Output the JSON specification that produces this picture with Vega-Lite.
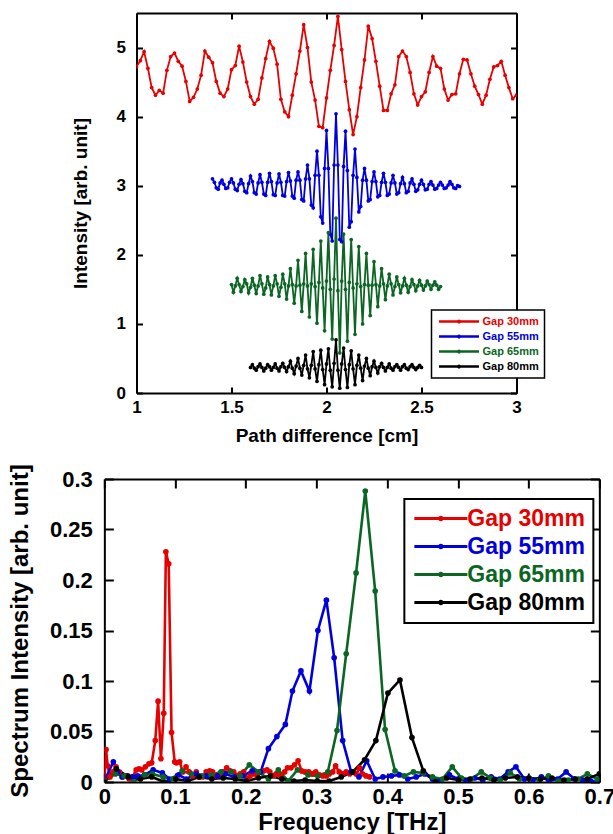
{
  "$schema": "https://vega.github.io/schema/vega-lite/v6.json",
  "padding": {"left": 8, "top": 12, "right": 0, "bottom": 0},
  "background": "white",
  "columns": 1,
  "align": "all",
  "center": true,
  "spacing": 18,
  "config": {
    "font": "Liberation Sans",
    "view": {"stroke": null},
    "axis": {"domainColor": "black", "domainWidth": 2, "tickColor": "black", "tickWidth": 2, "grid": false, "labelFlush": false, "labelFontWeight": "bold", "titleFontWeight": "bold", "labelColor": "black", "titleColor": "black"}
  },
  "resolve": {"legend": {"color": "independent"}},
  "datasets": {
    "top": [
      {"series":"Gap 30mm","x":1.00,"y":4.72},{"series":"Gap 30mm","x":1.02,"y":4.81},{"series":"Gap 30mm","x":1.04,"y":4.94},{"series":"Gap 30mm","x":1.06,"y":4.70},{"series":"Gap 30mm","x":1.08,"y":4.42},{"series":"Gap 30mm","x":1.10,"y":4.31},{"series":"Gap 30mm","x":1.12,"y":4.38},{"series":"Gap 30mm","x":1.14,"y":4.34},{"series":"Gap 30mm","x":1.16,"y":4.67},{"series":"Gap 30mm","x":1.18,"y":4.87},
      {"series":"Gap 30mm","x":1.20,"y":4.92},{"series":"Gap 30mm","x":1.22,"y":4.80},{"series":"Gap 30mm","x":1.24,"y":4.73},{"series":"Gap 30mm","x":1.26,"y":4.51},{"series":"Gap 30mm","x":1.28,"y":4.22},{"series":"Gap 30mm","x":1.30,"y":4.28},{"series":"Gap 30mm","x":1.32,"y":4.40},{"series":"Gap 30mm","x":1.34,"y":4.60},{"series":"Gap 30mm","x":1.36,"y":4.95},{"series":"Gap 30mm","x":1.38,"y":4.86},
      {"series":"Gap 30mm","x":1.40,"y":4.78},{"series":"Gap 30mm","x":1.42,"y":4.51},{"series":"Gap 30mm","x":1.44,"y":4.34},{"series":"Gap 30mm","x":1.46,"y":4.29},{"series":"Gap 30mm","x":1.48,"y":4.40},{"series":"Gap 30mm","x":1.50,"y":4.68},{"series":"Gap 30mm","x":1.52,"y":4.74},{"series":"Gap 30mm","x":1.54,"y":5.02},{"series":"Gap 30mm","x":1.56,"y":4.79},{"series":"Gap 30mm","x":1.58,"y":4.50},
      {"series":"Gap 30mm","x":1.60,"y":4.29},{"series":"Gap 30mm","x":1.62,"y":4.18},{"series":"Gap 30mm","x":1.64,"y":4.25},{"series":"Gap 30mm","x":1.66,"y":4.56},{"series":"Gap 30mm","x":1.68,"y":4.84},{"series":"Gap 30mm","x":1.70,"y":5.09},{"series":"Gap 30mm","x":1.72,"y":4.99},{"series":"Gap 30mm","x":1.74,"y":4.76},{"series":"Gap 30mm","x":1.76,"y":4.25},{"series":"Gap 30mm","x":1.78,"y":4.07},
      {"series":"Gap 30mm","x":1.80,"y":4.00},{"series":"Gap 30mm","x":1.82,"y":4.31},{"series":"Gap 30mm","x":1.84,"y":4.62},{"series":"Gap 30mm","x":1.86,"y":4.95},{"series":"Gap 30mm","x":1.88,"y":5.33},{"series":"Gap 30mm","x":1.90,"y":5.00},{"series":"Gap 30mm","x":1.92,"y":4.50},{"series":"Gap 30mm","x":1.94,"y":4.24},{"series":"Gap 30mm","x":1.96,"y":3.86},{"series":"Gap 30mm","x":1.98,"y":3.84},
      {"series":"Gap 30mm","x":2.00,"y":4.27},{"series":"Gap 30mm","x":2.02,"y":4.67},{"series":"Gap 30mm","x":2.04,"y":5.03},{"series":"Gap 30mm","x":2.06,"y":5.45},{"series":"Gap 30mm","x":2.08,"y":4.97},{"series":"Gap 30mm","x":2.10,"y":4.51},{"series":"Gap 30mm","x":2.12,"y":4.10},{"series":"Gap 30mm","x":2.14,"y":3.74},{"series":"Gap 30mm","x":2.16,"y":4.00},{"series":"Gap 30mm","x":2.18,"y":4.42},
      {"series":"Gap 30mm","x":2.20,"y":4.82},{"series":"Gap 30mm","x":2.22,"y":5.31},{"series":"Gap 30mm","x":2.24,"y":5.13},{"series":"Gap 30mm","x":2.26,"y":4.80},{"series":"Gap 30mm","x":2.28,"y":4.44},{"series":"Gap 30mm","x":2.30,"y":4.09},{"series":"Gap 30mm","x":2.32,"y":4.09},{"series":"Gap 30mm","x":2.34,"y":4.33},{"series":"Gap 30mm","x":2.36,"y":4.46},{"series":"Gap 30mm","x":2.38,"y":4.87},
      {"series":"Gap 30mm","x":2.40,"y":4.95},{"series":"Gap 30mm","x":2.42,"y":4.87},{"series":"Gap 30mm","x":2.44,"y":4.64},{"series":"Gap 30mm","x":2.46,"y":4.33},{"series":"Gap 30mm","x":2.48,"y":4.17},{"series":"Gap 30mm","x":2.50,"y":4.29},{"series":"Gap 30mm","x":2.52,"y":4.36},{"series":"Gap 30mm","x":2.54,"y":4.64},{"series":"Gap 30mm","x":2.56,"y":4.87},{"series":"Gap 30mm","x":2.58,"y":4.73},
      {"series":"Gap 30mm","x":2.60,"y":4.70},{"series":"Gap 30mm","x":2.62,"y":4.40},{"series":"Gap 30mm","x":2.64,"y":4.24},{"series":"Gap 30mm","x":2.66,"y":4.32},{"series":"Gap 30mm","x":2.68,"y":4.33},{"series":"Gap 30mm","x":2.70,"y":4.62},{"series":"Gap 30mm","x":2.72,"y":4.83},{"series":"Gap 30mm","x":2.74,"y":4.82},{"series":"Gap 30mm","x":2.76,"y":4.62},{"series":"Gap 30mm","x":2.78,"y":4.44},
      {"series":"Gap 30mm","x":2.80,"y":4.32},{"series":"Gap 30mm","x":2.82,"y":4.18},{"series":"Gap 30mm","x":2.84,"y":4.31},{"series":"Gap 30mm","x":2.86,"y":4.54},{"series":"Gap 30mm","x":2.88,"y":4.72},{"series":"Gap 30mm","x":2.90,"y":4.74},{"series":"Gap 30mm","x":2.92,"y":4.80},{"series":"Gap 30mm","x":2.94,"y":4.60},{"series":"Gap 30mm","x":2.96,"y":4.42},{"series":"Gap 30mm","x":2.98,"y":4.26},
      {"series":"Gap 30mm","x":3.00,"y":4.31},

      {"series":"Gap 55mm","x":1.40,"y":3.10},{"series":"Gap 55mm","x":1.41,"y":3.05},{"series":"Gap 55mm","x":1.42,"y":2.97},{"series":"Gap 55mm","x":1.43,"y":2.95},{"series":"Gap 55mm","x":1.44,"y":3.04},
      {"series":"Gap 55mm","x":1.45,"y":3.08},{"series":"Gap 55mm","x":1.46,"y":3.02},{"series":"Gap 55mm","x":1.47,"y":2.96},{"series":"Gap 55mm","x":1.48,"y":2.97},{"series":"Gap 55mm","x":1.49,"y":3.05},
      {"series":"Gap 55mm","x":1.50,"y":3.10},{"series":"Gap 55mm","x":1.51,"y":3.04},{"series":"Gap 55mm","x":1.52,"y":2.95},{"series":"Gap 55mm","x":1.53,"y":2.93},{"series":"Gap 55mm","x":1.54,"y":3.02},
      {"series":"Gap 55mm","x":1.55,"y":3.09},{"series":"Gap 55mm","x":1.56,"y":3.03},{"series":"Gap 55mm","x":1.57,"y":2.92},{"series":"Gap 55mm","x":1.58,"y":2.90},{"series":"Gap 55mm","x":1.59,"y":3.03},
      {"series":"Gap 55mm","x":1.60,"y":3.14},{"series":"Gap 55mm","x":1.61,"y":3.06},{"series":"Gap 55mm","x":1.62,"y":2.90},{"series":"Gap 55mm","x":1.63,"y":2.88},{"series":"Gap 55mm","x":1.64,"y":3.04},
      {"series":"Gap 55mm","x":1.65,"y":3.16},{"series":"Gap 55mm","x":1.66,"y":3.05},{"series":"Gap 55mm","x":1.67,"y":2.88},{"series":"Gap 55mm","x":1.68,"y":2.86},{"series":"Gap 55mm","x":1.69,"y":3.05},
      {"series":"Gap 55mm","x":1.70,"y":3.18},{"series":"Gap 55mm","x":1.71,"y":3.06},{"series":"Gap 55mm","x":1.72,"y":2.87},{"series":"Gap 55mm","x":1.73,"y":2.86},{"series":"Gap 55mm","x":1.74,"y":3.04},
      {"series":"Gap 55mm","x":1.75,"y":3.17},{"series":"Gap 55mm","x":1.76,"y":3.05},{"series":"Gap 55mm","x":1.77,"y":2.86},{"series":"Gap 55mm","x":1.78,"y":2.85},{"series":"Gap 55mm","x":1.79,"y":3.06},
      {"series":"Gap 55mm","x":1.80,"y":3.19},{"series":"Gap 55mm","x":1.81,"y":3.07},{"series":"Gap 55mm","x":1.82,"y":2.85},{"series":"Gap 55mm","x":1.83,"y":2.82},{"series":"Gap 55mm","x":1.84,"y":3.08},
      {"series":"Gap 55mm","x":1.85,"y":3.20},{"series":"Gap 55mm","x":1.86,"y":3.08},{"series":"Gap 55mm","x":1.87,"y":2.80},{"series":"Gap 55mm","x":1.88,"y":2.78},{"series":"Gap 55mm","x":1.89,"y":3.10},
      {"series":"Gap 55mm","x":1.90,"y":3.30},{"series":"Gap 55mm","x":1.91,"y":3.10},{"series":"Gap 55mm","x":1.92,"y":2.72},{"series":"Gap 55mm","x":1.93,"y":2.68},{"series":"Gap 55mm","x":1.94,"y":3.15},
      {"series":"Gap 55mm","x":1.95,"y":3.50},{"series":"Gap 55mm","x":1.96,"y":3.15},{"series":"Gap 55mm","x":1.97,"y":2.55},{"series":"Gap 55mm","x":1.98,"y":2.46},{"series":"Gap 55mm","x":1.99,"y":3.25},
      {"series":"Gap 55mm","x":2.00,"y":3.80},{"series":"Gap 55mm","x":2.01,"y":3.25},{"series":"Gap 55mm","x":2.02,"y":2.30},{"series":"Gap 55mm","x":2.03,"y":2.20},{"series":"Gap 55mm","x":2.04,"y":3.30},
      {"series":"Gap 55mm","x":2.05,"y":4.04},{"series":"Gap 55mm","x":2.06,"y":3.30},{"series":"Gap 55mm","x":2.07,"y":2.22},{"series":"Gap 55mm","x":2.08,"y":2.19},{"series":"Gap 55mm","x":2.09,"y":3.28},
      {"series":"Gap 55mm","x":2.10,"y":3.79},{"series":"Gap 55mm","x":2.11,"y":3.22},{"series":"Gap 55mm","x":2.12,"y":2.40},{"series":"Gap 55mm","x":2.13,"y":2.48},{"series":"Gap 55mm","x":2.14,"y":3.15},
      {"series":"Gap 55mm","x":2.15,"y":3.53},{"series":"Gap 55mm","x":2.16,"y":3.12},{"series":"Gap 55mm","x":2.17,"y":2.62},{"series":"Gap 55mm","x":2.18,"y":2.70},{"series":"Gap 55mm","x":2.19,"y":3.08},
      {"series":"Gap 55mm","x":2.20,"y":3.25},{"series":"Gap 55mm","x":2.21,"y":3.08},{"series":"Gap 55mm","x":2.22,"y":2.78},{"series":"Gap 55mm","x":2.23,"y":2.80},{"series":"Gap 55mm","x":2.24,"y":3.06},
      {"series":"Gap 55mm","x":2.25,"y":3.20},{"series":"Gap 55mm","x":2.26,"y":3.06},{"series":"Gap 55mm","x":2.27,"y":2.84},{"series":"Gap 55mm","x":2.28,"y":2.86},{"series":"Gap 55mm","x":2.29,"y":3.05},
      {"series":"Gap 55mm","x":2.30,"y":3.18},{"series":"Gap 55mm","x":2.31,"y":3.05},{"series":"Gap 55mm","x":2.32,"y":2.86},{"series":"Gap 55mm","x":2.33,"y":2.88},{"series":"Gap 55mm","x":2.34,"y":3.04},
      {"series":"Gap 55mm","x":2.35,"y":3.15},{"series":"Gap 55mm","x":2.36,"y":3.04},{"series":"Gap 55mm","x":2.37,"y":2.88},{"series":"Gap 55mm","x":2.38,"y":2.90},{"series":"Gap 55mm","x":2.39,"y":3.03},
      {"series":"Gap 55mm","x":2.40,"y":3.12},{"series":"Gap 55mm","x":2.41,"y":3.03},{"series":"Gap 55mm","x":2.42,"y":2.90},{"series":"Gap 55mm","x":2.43,"y":2.92},{"series":"Gap 55mm","x":2.44,"y":3.04},
      {"series":"Gap 55mm","x":2.45,"y":3.10},{"series":"Gap 55mm","x":2.46,"y":3.02},{"series":"Gap 55mm","x":2.47,"y":2.92},{"series":"Gap 55mm","x":2.48,"y":2.94},{"series":"Gap 55mm","x":2.49,"y":3.02},
      {"series":"Gap 55mm","x":2.50,"y":3.08},{"series":"Gap 55mm","x":2.51,"y":3.02},{"series":"Gap 55mm","x":2.52,"y":2.94},{"series":"Gap 55mm","x":2.53,"y":2.95},{"series":"Gap 55mm","x":2.54,"y":3.02},
      {"series":"Gap 55mm","x":2.55,"y":3.06},{"series":"Gap 55mm","x":2.56,"y":3.01},{"series":"Gap 55mm","x":2.57,"y":2.95},{"series":"Gap 55mm","x":2.58,"y":2.96},{"series":"Gap 55mm","x":2.59,"y":3.01},
      {"series":"Gap 55mm","x":2.60,"y":3.05},{"series":"Gap 55mm","x":2.61,"y":3.01},{"series":"Gap 55mm","x":2.62,"y":2.96},{"series":"Gap 55mm","x":2.63,"y":2.97},{"series":"Gap 55mm","x":2.64,"y":3.01},
      {"series":"Gap 55mm","x":2.65,"y":3.06},{"series":"Gap 55mm","x":2.66,"y":3.02},{"series":"Gap 55mm","x":2.67,"y":2.97},{"series":"Gap 55mm","x":2.68,"y":2.96},{"series":"Gap 55mm","x":2.69,"y":3.00},
      {"series":"Gap 55mm","x":2.70,"y":2.99},

      {"series":"Gap 65mm","x":1.50,"y":1.57},{"series":"Gap 65mm","x":1.51,"y":1.46},{"series":"Gap 65mm","x":1.52,"y":1.55},{"series":"Gap 65mm","x":1.53,"y":1.66},{"series":"Gap 65mm","x":1.54,"y":1.57},{"series":"Gap 65mm","x":1.55,"y":1.47},{"series":"Gap 65mm","x":1.56,"y":1.54},{"series":"Gap 65mm","x":1.57,"y":1.64},{"series":"Gap 65mm","x":1.58,"y":1.58},{"series":"Gap 65mm","x":1.59,"y":1.45},
      {"series":"Gap 65mm","x":1.60,"y":1.53},{"series":"Gap 65mm","x":1.61,"y":1.66},{"series":"Gap 65mm","x":1.62,"y":1.56},{"series":"Gap 65mm","x":1.63,"y":1.44},{"series":"Gap 65mm","x":1.64,"y":1.55},{"series":"Gap 65mm","x":1.65,"y":1.70},{"series":"Gap 65mm","x":1.66,"y":1.58},{"series":"Gap 65mm","x":1.67,"y":1.43},{"series":"Gap 65mm","x":1.68,"y":1.52},{"series":"Gap 65mm","x":1.69,"y":1.68},
      {"series":"Gap 65mm","x":1.70,"y":1.57},{"series":"Gap 65mm","x":1.71,"y":1.42},{"series":"Gap 65mm","x":1.72,"y":1.55},{"series":"Gap 65mm","x":1.73,"y":1.70},{"series":"Gap 65mm","x":1.74,"y":1.58},{"series":"Gap 65mm","x":1.75,"y":1.40},{"series":"Gap 65mm","x":1.76,"y":1.53},{"series":"Gap 65mm","x":1.77,"y":1.72},{"series":"Gap 65mm","x":1.78,"y":1.58},{"series":"Gap 65mm","x":1.79,"y":1.36},
      {"series":"Gap 65mm","x":1.80,"y":1.55},{"series":"Gap 65mm","x":1.81,"y":1.80},{"series":"Gap 65mm","x":1.82,"y":1.57},{"series":"Gap 65mm","x":1.83,"y":1.30},{"series":"Gap 65mm","x":1.84,"y":1.55},{"series":"Gap 65mm","x":1.85,"y":1.92},{"series":"Gap 65mm","x":1.86,"y":1.56},{"series":"Gap 65mm","x":1.87,"y":1.18},{"series":"Gap 65mm","x":1.88,"y":1.58},{"series":"Gap 65mm","x":1.89,"y":2.02},
      {"series":"Gap 65mm","x":1.90,"y":1.55},{"series":"Gap 65mm","x":1.91,"y":1.10},{"series":"Gap 65mm","x":1.92,"y":1.58},{"series":"Gap 65mm","x":1.93,"y":2.08},{"series":"Gap 65mm","x":1.94,"y":1.54},{"series":"Gap 65mm","x":1.95,"y":1.01},{"series":"Gap 65mm","x":1.96,"y":1.60},{"series":"Gap 65mm","x":1.97,"y":2.20},{"series":"Gap 65mm","x":1.98,"y":1.52},{"series":"Gap 65mm","x":1.99,"y":0.90},
      {"series":"Gap 65mm","x":2.00,"y":1.62},{"series":"Gap 65mm","x":2.01,"y":2.32},{"series":"Gap 65mm","x":2.02,"y":1.50},{"series":"Gap 65mm","x":2.03,"y":0.78},{"series":"Gap 65mm","x":2.04,"y":1.65},{"series":"Gap 65mm","x":2.05,"y":2.53},{"series":"Gap 65mm","x":2.06,"y":1.48},{"series":"Gap 65mm","x":2.07,"y":0.58},{"series":"Gap 65mm","x":2.08,"y":1.62},{"series":"Gap 65mm","x":2.09,"y":2.30},
      {"series":"Gap 65mm","x":2.10,"y":1.50},{"series":"Gap 65mm","x":2.11,"y":0.75},{"series":"Gap 65mm","x":2.12,"y":1.60},{"series":"Gap 65mm","x":2.13,"y":2.22},{"series":"Gap 65mm","x":2.14,"y":1.52},{"series":"Gap 65mm","x":2.15,"y":0.85},{"series":"Gap 65mm","x":2.16,"y":1.58},{"series":"Gap 65mm","x":2.17,"y":2.12},{"series":"Gap 65mm","x":2.18,"y":1.54},{"series":"Gap 65mm","x":2.19,"y":1.00},
      {"series":"Gap 65mm","x":2.20,"y":1.57},{"series":"Gap 65mm","x":2.21,"y":2.02},{"series":"Gap 65mm","x":2.22,"y":1.56},{"series":"Gap 65mm","x":2.23,"y":1.12},{"series":"Gap 65mm","x":2.24,"y":1.56},{"series":"Gap 65mm","x":2.25,"y":1.90},{"series":"Gap 65mm","x":2.26,"y":1.57},{"series":"Gap 65mm","x":2.27,"y":1.25},{"series":"Gap 65mm","x":2.28,"y":1.55},{"series":"Gap 65mm","x":2.29,"y":1.80},
      {"series":"Gap 65mm","x":2.30,"y":1.58},{"series":"Gap 65mm","x":2.31,"y":1.35},{"series":"Gap 65mm","x":2.32,"y":1.55},{"series":"Gap 65mm","x":2.33,"y":1.72},{"series":"Gap 65mm","x":2.34,"y":1.58},{"series":"Gap 65mm","x":2.35,"y":1.42},{"series":"Gap 65mm","x":2.36,"y":1.54},{"series":"Gap 65mm","x":2.37,"y":1.68},{"series":"Gap 65mm","x":2.38,"y":1.57},{"series":"Gap 65mm","x":2.39,"y":1.45},
      {"series":"Gap 65mm","x":2.40,"y":1.55},{"series":"Gap 65mm","x":2.41,"y":1.66},{"series":"Gap 65mm","x":2.42,"y":1.56},{"series":"Gap 65mm","x":2.43,"y":1.46},{"series":"Gap 65mm","x":2.44,"y":1.54},{"series":"Gap 65mm","x":2.45,"y":1.64},{"series":"Gap 65mm","x":2.46,"y":1.57},{"series":"Gap 65mm","x":2.47,"y":1.48},{"series":"Gap 65mm","x":2.48,"y":1.55},{"series":"Gap 65mm","x":2.49,"y":1.63},
      {"series":"Gap 65mm","x":2.50,"y":1.56},{"series":"Gap 65mm","x":2.51,"y":1.49},{"series":"Gap 65mm","x":2.52,"y":1.55},{"series":"Gap 65mm","x":2.53,"y":1.62},{"series":"Gap 65mm","x":2.54,"y":1.57},{"series":"Gap 65mm","x":2.55,"y":1.50},{"series":"Gap 65mm","x":2.56,"y":1.56},{"series":"Gap 65mm","x":2.57,"y":1.61},{"series":"Gap 65mm","x":2.58,"y":1.56},{"series":"Gap 65mm","x":2.59,"y":1.50},
      {"series":"Gap 65mm","x":2.60,"y":1.54},

      {"series":"Gap 80mm","x":1.60,"y":0.37},{"series":"Gap 80mm","x":1.61,"y":0.41},{"series":"Gap 80mm","x":1.62,"y":0.36},{"series":"Gap 80mm","x":1.63,"y":0.33},{"series":"Gap 80mm","x":1.64,"y":0.38},{"series":"Gap 80mm","x":1.65,"y":0.42},{"series":"Gap 80mm","x":1.66,"y":0.37},{"series":"Gap 80mm","x":1.67,"y":0.32},{"series":"Gap 80mm","x":1.68,"y":0.36},{"series":"Gap 80mm","x":1.69,"y":0.41},
      {"series":"Gap 80mm","x":1.70,"y":0.38},{"series":"Gap 80mm","x":1.71,"y":0.33},{"series":"Gap 80mm","x":1.72,"y":0.37},{"series":"Gap 80mm","x":1.73,"y":0.42},{"series":"Gap 80mm","x":1.74,"y":0.36},{"series":"Gap 80mm","x":1.75,"y":0.32},{"series":"Gap 80mm","x":1.76,"y":0.38},{"series":"Gap 80mm","x":1.77,"y":0.43},{"series":"Gap 80mm","x":1.78,"y":0.37},{"series":"Gap 80mm","x":1.79,"y":0.31},
      {"series":"Gap 80mm","x":1.80,"y":0.38},{"series":"Gap 80mm","x":1.81,"y":0.46},{"series":"Gap 80mm","x":1.82,"y":0.36},{"series":"Gap 80mm","x":1.83,"y":0.28},{"series":"Gap 80mm","x":1.84,"y":0.39},{"series":"Gap 80mm","x":1.85,"y":0.50},{"series":"Gap 80mm","x":1.86,"y":0.36},{"series":"Gap 80mm","x":1.87,"y":0.26},{"series":"Gap 80mm","x":1.88,"y":0.40},{"series":"Gap 80mm","x":1.89,"y":0.55},
      {"series":"Gap 80mm","x":1.90,"y":0.35},{"series":"Gap 80mm","x":1.91,"y":0.22},{"series":"Gap 80mm","x":1.92,"y":0.40},{"series":"Gap 80mm","x":1.93,"y":0.60},{"series":"Gap 80mm","x":1.94,"y":0.35},{"series":"Gap 80mm","x":1.95,"y":0.17},{"series":"Gap 80mm","x":1.96,"y":0.41},{"series":"Gap 80mm","x":1.97,"y":0.62},{"series":"Gap 80mm","x":1.98,"y":0.34},{"series":"Gap 80mm","x":1.99,"y":0.12},
      {"series":"Gap 80mm","x":2.00,"y":0.42},{"series":"Gap 80mm","x":2.01,"y":0.64},{"series":"Gap 80mm","x":2.02,"y":0.33},{"series":"Gap 80mm","x":2.03,"y":0.09},{"series":"Gap 80mm","x":2.04,"y":0.43},{"series":"Gap 80mm","x":2.05,"y":0.77},{"series":"Gap 80mm","x":2.06,"y":0.33},{"series":"Gap 80mm","x":2.07,"y":0.07},{"series":"Gap 80mm","x":2.08,"y":0.42},{"series":"Gap 80mm","x":2.09,"y":0.65},
      {"series":"Gap 80mm","x":2.10,"y":0.34},{"series":"Gap 80mm","x":2.11,"y":0.08},{"series":"Gap 80mm","x":2.12,"y":0.41},{"series":"Gap 80mm","x":2.13,"y":0.61},{"series":"Gap 80mm","x":2.14,"y":0.35},{"series":"Gap 80mm","x":2.15,"y":0.12},{"series":"Gap 80mm","x":2.16,"y":0.40},{"series":"Gap 80mm","x":2.17,"y":0.55},{"series":"Gap 80mm","x":2.18,"y":0.36},{"series":"Gap 80mm","x":2.19,"y":0.18},
      {"series":"Gap 80mm","x":2.20,"y":0.39},{"series":"Gap 80mm","x":2.21,"y":0.50},{"series":"Gap 80mm","x":2.22,"y":0.36},{"series":"Gap 80mm","x":2.23,"y":0.25},{"series":"Gap 80mm","x":2.24,"y":0.38},{"series":"Gap 80mm","x":2.25,"y":0.46},{"series":"Gap 80mm","x":2.26,"y":0.37},{"series":"Gap 80mm","x":2.27,"y":0.29},{"series":"Gap 80mm","x":2.28,"y":0.38},{"series":"Gap 80mm","x":2.29,"y":0.43},
      {"series":"Gap 80mm","x":2.30,"y":0.37},{"series":"Gap 80mm","x":2.31,"y":0.32},{"series":"Gap 80mm","x":2.32,"y":0.37},{"series":"Gap 80mm","x":2.33,"y":0.42},{"series":"Gap 80mm","x":2.34,"y":0.36},{"series":"Gap 80mm","x":2.35,"y":0.33},{"series":"Gap 80mm","x":2.36,"y":0.38},{"series":"Gap 80mm","x":2.37,"y":0.41},{"series":"Gap 80mm","x":2.38,"y":0.37},{"series":"Gap 80mm","x":2.39,"y":0.33},
      {"series":"Gap 80mm","x":2.40,"y":0.38},{"series":"Gap 80mm","x":2.41,"y":0.41},{"series":"Gap 80mm","x":2.42,"y":0.36},{"series":"Gap 80mm","x":2.43,"y":0.34},{"series":"Gap 80mm","x":2.44,"y":0.38},{"series":"Gap 80mm","x":2.45,"y":0.41},{"series":"Gap 80mm","x":2.46,"y":0.37},{"series":"Gap 80mm","x":2.47,"y":0.34},{"series":"Gap 80mm","x":2.48,"y":0.37},{"series":"Gap 80mm","x":2.49,"y":0.40},
      {"series":"Gap 80mm","x":2.50,"y":0.37}
    ],
    "bottom": [
      {"series":"Gap 30mm","f":0.000,"I":0.002},{"series":"Gap 30mm","f":0.0024,"I":0.032},{"series":"Gap 30mm","f":0.0047,"I":0.016},{"series":"Gap 30mm","f":0.008,"I":0.005},{"series":"Gap 30mm","f":0.012,"I":0.010},{"series":"Gap 30mm","f":0.0165,"I":0.015},{"series":"Gap 30mm","f":0.021,"I":0.010},{"series":"Gap 30mm","f":0.026,"I":0.005},{"series":"Gap 30mm","f":0.031,"I":0.006},{"series":"Gap 30mm","f":0.035,"I":0.003},
      {"series":"Gap 30mm","f":0.040,"I":0.005},{"series":"Gap 30mm","f":0.045,"I":0.012},{"series":"Gap 30mm","f":0.049,"I":0.013},{"series":"Gap 30mm","f":0.053,"I":0.012},{"series":"Gap 30mm","f":0.058,"I":0.015},{"series":"Gap 30mm","f":0.063,"I":0.018},{"series":"Gap 30mm","f":0.067,"I":0.019},{"series":"Gap 30mm","f":0.072,"I":0.041},{"series":"Gap 30mm","f":0.076,"I":0.080},{"series":"Gap 30mm","f":0.080,"I":0.023},
      {"series":"Gap 30mm","f":0.084,"I":0.068},{"series":"Gap 30mm","f":0.087,"I":0.228},{"series":"Gap 30mm","f":0.091,"I":0.216},{"series":"Gap 30mm","f":0.095,"I":0.049},{"series":"Gap 30mm","f":0.0995,"I":0.020},{"series":"Gap 30mm","f":0.102,"I":0.019},{"series":"Gap 30mm","f":0.1065,"I":0.020},{"series":"Gap 30mm","f":0.111,"I":0.010},{"series":"Gap 30mm","f":0.1155,"I":0.015},{"series":"Gap 30mm","f":0.120,"I":0.010},
      {"series":"Gap 30mm","f":0.125,"I":0.006},{"series":"Gap 30mm","f":0.130,"I":0.010},{"series":"Gap 30mm","f":0.134,"I":0.005},{"series":"Gap 30mm","f":0.139,"I":0.005},{"series":"Gap 30mm","f":0.144,"I":0.010},{"series":"Gap 30mm","f":0.149,"I":0.011},{"series":"Gap 30mm","f":0.153,"I":0.010},{"series":"Gap 30mm","f":0.158,"I":0.006},{"series":"Gap 30mm","f":0.163,"I":0.007},{"series":"Gap 30mm","f":0.167,"I":0.010},
      {"series":"Gap 30mm","f":0.173,"I":0.014},{"series":"Gap 30mm","f":0.178,"I":0.011},{"series":"Gap 30mm","f":0.183,"I":0.010},{"series":"Gap 30mm","f":0.188,"I":0.006},{"series":"Gap 30mm","f":0.192,"I":0.008},{"series":"Gap 30mm","f":0.197,"I":0.010},{"series":"Gap 30mm","f":0.202,"I":0.003},{"series":"Gap 30mm","f":0.206,"I":0.006},{"series":"Gap 30mm","f":0.211,"I":0.008},{"series":"Gap 30mm","f":0.216,"I":0.006},
      {"series":"Gap 30mm","f":0.221,"I":0.010},{"series":"Gap 30mm","f":0.225,"I":0.011},{"series":"Gap 30mm","f":0.230,"I":0.012},{"series":"Gap 30mm","f":0.234,"I":0.010},{"series":"Gap 30mm","f":0.239,"I":0.006},{"series":"Gap 30mm","f":0.244,"I":0.008},{"series":"Gap 30mm","f":0.249,"I":0.006},{"series":"Gap 30mm","f":0.255,"I":0.010},{"series":"Gap 30mm","f":0.259,"I":0.014},{"series":"Gap 30mm","f":0.264,"I":0.014},
      {"series":"Gap 30mm","f":0.269,"I":0.017},{"series":"Gap 30mm","f":0.274,"I":0.021},{"series":"Gap 30mm","f":0.279,"I":0.011},{"series":"Gap 30mm","f":0.284,"I":0.010},{"series":"Gap 30mm","f":0.289,"I":0.010},{"series":"Gap 30mm","f":0.294,"I":0.008},{"series":"Gap 30mm","f":0.299,"I":0.010},{"series":"Gap 30mm","f":0.304,"I":0.007},{"series":"Gap 30mm","f":0.309,"I":0.006},{"series":"Gap 30mm","f":0.314,"I":0.006},
      {"series":"Gap 30mm","f":0.318,"I":0.008},{"series":"Gap 30mm","f":0.323,"I":0.010},{"series":"Gap 30mm","f":0.327,"I":0.016},{"series":"Gap 30mm","f":0.332,"I":0.010},{"series":"Gap 30mm","f":0.337,"I":0.008},{"series":"Gap 30mm","f":0.342,"I":0.010},{"series":"Gap 30mm","f":0.347,"I":0.008},{"series":"Gap 30mm","f":0.352,"I":0.010},{"series":"Gap 30mm","f":0.356,"I":0.008},{"series":"Gap 30mm","f":0.361,"I":0.014},
      {"series":"Gap 30mm","f":0.365,"I":0.008},{"series":"Gap 30mm","f":0.370,"I":0.006},{"series":"Gap 30mm","f":0.375,"I":0.005},

      {"series":"Gap 55mm","f":0.000,"I":0.001},{"series":"Gap 55mm","f":0.0127,"I":0.020},{"series":"Gap 55mm","f":0.0189,"I":0.010},{"series":"Gap 55mm","f":0.025,"I":0.005},{"series":"Gap 55mm","f":0.033,"I":0.006},{"series":"Gap 55mm","f":0.040,"I":0.005},{"series":"Gap 55mm","f":0.047,"I":0.006},{"series":"Gap 55mm","f":0.057,"I":0.007},{"series":"Gap 55mm","f":0.069,"I":0.012},{"series":"Gap 55mm","f":0.082,"I":0.009},
      {"series":"Gap 55mm","f":0.092,"I":0.003},{"series":"Gap 55mm","f":0.105,"I":0.007},{"series":"Gap 55mm","f":0.116,"I":0.003},{"series":"Gap 55mm","f":0.130,"I":0.008},{"series":"Gap 55mm","f":0.144,"I":0.006},{"series":"Gap 55mm","f":0.160,"I":0.006},{"series":"Gap 55mm","f":0.171,"I":0.008},{"series":"Gap 55mm","f":0.184,"I":0.005},{"series":"Gap 55mm","f":0.196,"I":0.006},{"series":"Gap 55mm","f":0.209,"I":0.011},
      {"series":"Gap 55mm","f":0.221,"I":0.010},{"series":"Gap 55mm","f":0.232,"I":0.033},{"series":"Gap 55mm","f":0.244,"I":0.045},{"series":"Gap 55mm","f":0.256,"I":0.057},{"series":"Gap 55mm","f":0.266,"I":0.090},{"series":"Gap 55mm","f":0.278,"I":0.110},{"series":"Gap 55mm","f":0.290,"I":0.090},{"series":"Gap 55mm","f":0.302,"I":0.150},{"series":"Gap 55mm","f":0.314,"I":0.180},{"series":"Gap 55mm","f":0.325,"I":0.123},
      {"series":"Gap 55mm","f":0.337,"I":0.041},{"series":"Gap 55mm","f":0.349,"I":0.010},{"series":"Gap 55mm","f":0.360,"I":0.005},{"series":"Gap 55mm","f":0.371,"I":0.021},{"series":"Gap 55mm","f":0.383,"I":0.003},{"series":"Gap 55mm","f":0.394,"I":0.005},{"series":"Gap 55mm","f":0.406,"I":0.006},{"series":"Gap 55mm","f":0.417,"I":0.007},{"series":"Gap 55mm","f":0.429,"I":0.003},{"series":"Gap 55mm","f":0.441,"I":0.005},
      {"series":"Gap 55mm","f":0.453,"I":0.008},{"series":"Gap 55mm","f":0.464,"I":0.003},{"series":"Gap 55mm","f":0.476,"I":0.001},{"series":"Gap 55mm","f":0.488,"I":0.007},{"series":"Gap 55mm","f":0.500,"I":0.003},{"series":"Gap 55mm","f":0.512,"I":0.001},{"series":"Gap 55mm","f":0.524,"I":0.004},{"series":"Gap 55mm","f":0.535,"I":0.002},{"series":"Gap 55mm","f":0.547,"I":0.005},{"series":"Gap 55mm","f":0.559,"I":0.003},
      {"series":"Gap 55mm","f":0.571,"I":0.010},{"series":"Gap 55mm","f":0.582,"I":0.015},{"series":"Gap 55mm","f":0.594,"I":0.003},{"series":"Gap 55mm","f":0.606,"I":0.002},{"series":"Gap 55mm","f":0.618,"I":0.005},{"series":"Gap 55mm","f":0.629,"I":0.001},{"series":"Gap 55mm","f":0.641,"I":0.003},{"series":"Gap 55mm","f":0.653,"I":0.010},{"series":"Gap 55mm","f":0.665,"I":0.003},{"series":"Gap 55mm","f":0.676,"I":0.002},
      {"series":"Gap 55mm","f":0.688,"I":0.001},{"series":"Gap 55mm","f":0.700,"I":0.000},

      {"series":"Gap 65mm","f":0.000,"I":0.001},{"series":"Gap 65mm","f":0.0156,"I":0.008},{"series":"Gap 65mm","f":0.028,"I":0.006},{"series":"Gap 65mm","f":0.041,"I":0.000},{"series":"Gap 65mm","f":0.057,"I":0.007},{"series":"Gap 65mm","f":0.068,"I":0.008},{"series":"Gap 65mm","f":0.083,"I":0.005},{"series":"Gap 65mm","f":0.097,"I":0.003},{"series":"Gap 65mm","f":0.110,"I":0.011},{"series":"Gap 65mm","f":0.123,"I":0.008},
      {"series":"Gap 65mm","f":0.138,"I":0.006},{"series":"Gap 65mm","f":0.151,"I":0.007},{"series":"Gap 65mm","f":0.165,"I":0.010},{"series":"Gap 65mm","f":0.179,"I":0.010},{"series":"Gap 65mm","f":0.192,"I":0.006},{"series":"Gap 65mm","f":0.205,"I":0.017},{"series":"Gap 65mm","f":0.218,"I":0.010},{"series":"Gap 65mm","f":0.232,"I":0.003},{"series":"Gap 65mm","f":0.246,"I":0.012},{"series":"Gap 65mm","f":0.260,"I":0.001},
      {"series":"Gap 65mm","f":0.273,"I":0.012},{"series":"Gap 65mm","f":0.288,"I":0.007},{"series":"Gap 65mm","f":0.302,"I":0.006},{"series":"Gap 65mm","f":0.316,"I":0.010},{"series":"Gap 65mm","f":0.329,"I":0.051},{"series":"Gap 65mm","f":0.342,"I":0.127},{"series":"Gap 65mm","f":0.356,"I":0.207},{"series":"Gap 65mm","f":0.369,"I":0.288},{"series":"Gap 65mm","f":0.383,"I":0.189},{"series":"Gap 65mm","f":0.397,"I":0.052},
      {"series":"Gap 65mm","f":0.411,"I":0.011},{"series":"Gap 65mm","f":0.424,"I":0.006},{"series":"Gap 65mm","f":0.437,"I":0.010},{"series":"Gap 65mm","f":0.451,"I":0.009},{"series":"Gap 65mm","f":0.464,"I":0.005},{"series":"Gap 65mm","f":0.478,"I":0.003},{"series":"Gap 65mm","f":0.492,"I":0.015},{"series":"Gap 65mm","f":0.505,"I":0.004},{"series":"Gap 65mm","f":0.519,"I":0.003},{"series":"Gap 65mm","f":0.533,"I":0.010},
      {"series":"Gap 65mm","f":0.546,"I":0.004},{"series":"Gap 65mm","f":0.560,"I":0.002},{"series":"Gap 65mm","f":0.574,"I":0.009},{"series":"Gap 65mm","f":0.587,"I":0.003},{"series":"Gap 65mm","f":0.601,"I":0.004},{"series":"Gap 65mm","f":0.615,"I":0.002},{"series":"Gap 65mm","f":0.628,"I":0.006},{"series":"Gap 65mm","f":0.642,"I":0.001},{"series":"Gap 65mm","f":0.656,"I":0.002},{"series":"Gap 65mm","f":0.670,"I":0.003},
      {"series":"Gap 65mm","f":0.683,"I":0.008},{"series":"Gap 65mm","f":0.697,"I":0.003},

      {"series":"Gap 80mm","f":0.000,"I":0.000},{"series":"Gap 80mm","f":0.017,"I":0.013},{"series":"Gap 80mm","f":0.034,"I":0.005},{"series":"Gap 80mm","f":0.051,"I":0.003},{"series":"Gap 80mm","f":0.067,"I":0.005},{"series":"Gap 80mm","f":0.085,"I":0.000},{"series":"Gap 80mm","f":0.101,"I":0.003},{"series":"Gap 80mm","f":0.118,"I":0.001},{"series":"Gap 80mm","f":0.134,"I":0.005},{"series":"Gap 80mm","f":0.152,"I":0.003},
      {"series":"Gap 80mm","f":0.168,"I":0.004},{"series":"Gap 80mm","f":0.185,"I":0.003},{"series":"Gap 80mm","f":0.201,"I":0.001},{"series":"Gap 80mm","f":0.218,"I":0.004},{"series":"Gap 80mm","f":0.235,"I":0.006},{"series":"Gap 80mm","f":0.251,"I":0.003},{"series":"Gap 80mm","f":0.268,"I":0.001},{"series":"Gap 80mm","f":0.284,"I":0.002},{"series":"Gap 80mm","f":0.301,"I":0.001},{"series":"Gap 80mm","f":0.318,"I":0.001},
      {"series":"Gap 80mm","f":0.335,"I":0.005},{"series":"Gap 80mm","f":0.351,"I":0.010},{"series":"Gap 80mm","f":0.368,"I":0.022},{"series":"Gap 80mm","f":0.384,"I":0.041},{"series":"Gap 80mm","f":0.401,"I":0.088},{"series":"Gap 80mm","f":0.418,"I":0.101},{"series":"Gap 80mm","f":0.435,"I":0.044},{"series":"Gap 80mm","f":0.451,"I":0.011},{"series":"Gap 80mm","f":0.468,"I":0.000},{"series":"Gap 80mm","f":0.484,"I":0.004},
      {"series":"Gap 80mm","f":0.501,"I":0.002},{"series":"Gap 80mm","f":0.517,"I":0.003},{"series":"Gap 80mm","f":0.534,"I":0.004},{"series":"Gap 80mm","f":0.551,"I":0.002},{"series":"Gap 80mm","f":0.567,"I":0.004},{"series":"Gap 80mm","f":0.584,"I":0.005},{"series":"Gap 80mm","f":0.600,"I":0.004},{"series":"Gap 80mm","f":0.617,"I":0.003},{"series":"Gap 80mm","f":0.633,"I":0.004},{"series":"Gap 80mm","f":0.650,"I":0.002},
      {"series":"Gap 80mm","f":0.666,"I":0.003},{"series":"Gap 80mm","f":0.683,"I":0.003},{"series":"Gap 80mm","f":0.700,"I":0.008}
    ]
  },
  "concat": [
    {
      "width": 380,
      "height": 380,
      "data": {"name": "top"},
      "layer": [
        {
          "mark": {"type": "line", "strokeWidth": 1.8, "clip": true, "point": {"filled": true, "size": 14}},
          "encoding": {
            "x": {"field": "x", "type": "quantitative", "scale": {"domain": [1, 3], "nice": false, "zero": false},
              "axis": {"orient": "bottom", "values": [1, 1.5, 2, 2.5, 3], "format": "~g", "title": "Path difference [cm]", "labelFontSize": 17, "titleFontSize": 19, "tickSize": -6, "labelPadding": 12, "titlePadding": 11}},
            "y": {"field": "y", "type": "quantitative", "scale": {"domain": [0, 5.5], "nice": false},
              "axis": {"orient": "left", "values": [0, 1, 2, 3, 4, 5], "title": "Intensity [arb. unit]", "labelFontSize": 17, "titleFontSize": 19, "tickSize": -6, "labelPadding": 17, "titlePadding": 26}},
            "color": {"field": "series", "type": "nominal",
              "scale": {"domain": ["Gap 30mm", "Gap 55mm", "Gap 65mm", "Gap 80mm"], "range": ["#e60000", "#0000dd", "#0b6623", "#000000"]},
              "legend": {"orient": "none", "legendX": 295, "legendY": 297, "title": null, "strokeColor": "black", "fillColor": "white", "padding": 5,
                "labelFontSize": 11, "labelFontWeight": "bold", "labelOffset": 17, "rowPadding": 2, "symbolOffset": 16,
                "symbolType": "M-4,0H4M-0.15,0A0.15,0.15,0,1,1,0.15,0A0.15,0.15,0,1,1,-0.15,0", "symbolSize": 100, "symbolStrokeWidth": 2.5,
                "encode": {"legend": {"update": {"strokeWidth": {"value": 1.5}}}, "labels": {"update": {"fill": {"scale": "color", "field": "value"}}}}}}
          }
        },
        {
          "mark": {"type": "line", "opacity": 0},
          "encoding": {
            "x": {"field": "x", "type": "quantitative", "axis": {"orient": "top", "values": [1, 1.5, 2, 2.5, 3], "labels": false, "title": null, "tickSize": -6}},
            "y": {"field": "y", "type": "quantitative", "axis": {"orient": "right", "values": [0, 1, 2, 3, 4, 5], "labels": false, "title": "x", "titleOpacity": 0, "titleFontSize": 10, "titlePadding": 55, "tickSize": -6}},
            "detail": {"field": "series"}
          }
        }
      ],
      "resolve": {"axis": {"x": "independent", "y": "independent"}}
    },
    {
      "width": 495,
      "height": 303,
      "data": {"name": "bottom"},
      "layer": [
        {
          "mark": {"type": "line", "strokeWidth": 2.6, "clip": true, "point": {"filled": true, "size": 32}},
          "encoding": {
            "x": {"field": "f", "type": "quantitative", "scale": {"domain": [0, 0.7], "nice": false},
              "axis": {"orient": "bottom", "values": [0, 0.1, 0.2, 0.3, 0.4, 0.5, 0.6, 0.7], "format": "~g", "title": "Frequency [THz]", "labelFontSize": 22, "titleFontSize": 24, "tickSize": -9, "labelPadding": 13, "titlePadding": 3}},
            "y": {"field": "I", "type": "quantitative", "scale": {"domain": [0, 0.3], "nice": false},
              "axis": {"orient": "left", "values": [0, 0.05, 0.1, 0.15, 0.2, 0.25, 0.3], "format": "~g", "title": "Spectrum Intensity [arb. unit]", "labelFontSize": 22, "titleFontSize": 24, "tickSize": -9, "labelPadding": 21, "titlePadding": 17}},
            "color": {"field": "series", "type": "nominal",
              "scale": {"domain": ["Gap 30mm", "Gap 55mm", "Gap 65mm", "Gap 80mm"], "range": ["#e60000", "#0000dd", "#0b6623", "#000000"]},
              "legend": {"orient": "none", "legendX": 300, "legendY": 20, "title": null, "strokeColor": "black", "fillColor": "white", "padding": 8,
                "labelFontSize": 23, "labelFontWeight": "bold", "labelOffset": 15, "rowPadding": 4, "symbolOffset": 17,
                "symbolType": "M-2.65,0H2.65M-0.12,0A0.12,0.12,0,1,1,0.12,0A0.12,0.12,0,1,1,-0.12,0", "symbolSize": 400, "symbolStrokeWidth": 3,
                "encode": {"legend": {"update": {"strokeWidth": {"value": 2}}}, "labels": {"update": {"fill": {"scale": "color", "field": "value"}}}}}}
          }
        },
        {
          "mark": {"type": "line", "opacity": 0},
          "encoding": {
            "x": {"field": "f", "type": "quantitative", "axis": {"orient": "top", "values": [0, 0.1, 0.2, 0.3, 0.4, 0.5, 0.6, 0.7], "labels": false, "title": null, "tickSize": -9}},
            "y": {"field": "I", "type": "quantitative", "axis": {"orient": "right", "values": [0, 0.05, 0.1, 0.15, 0.2, 0.25, 0.3], "labels": false, "title": null, "tickSize": -9}},
            "detail": {"field": "series"}
          }
        }
      ],
      "resolve": {"axis": {"x": "independent", "y": "independent"}}
    }
  ]
}
